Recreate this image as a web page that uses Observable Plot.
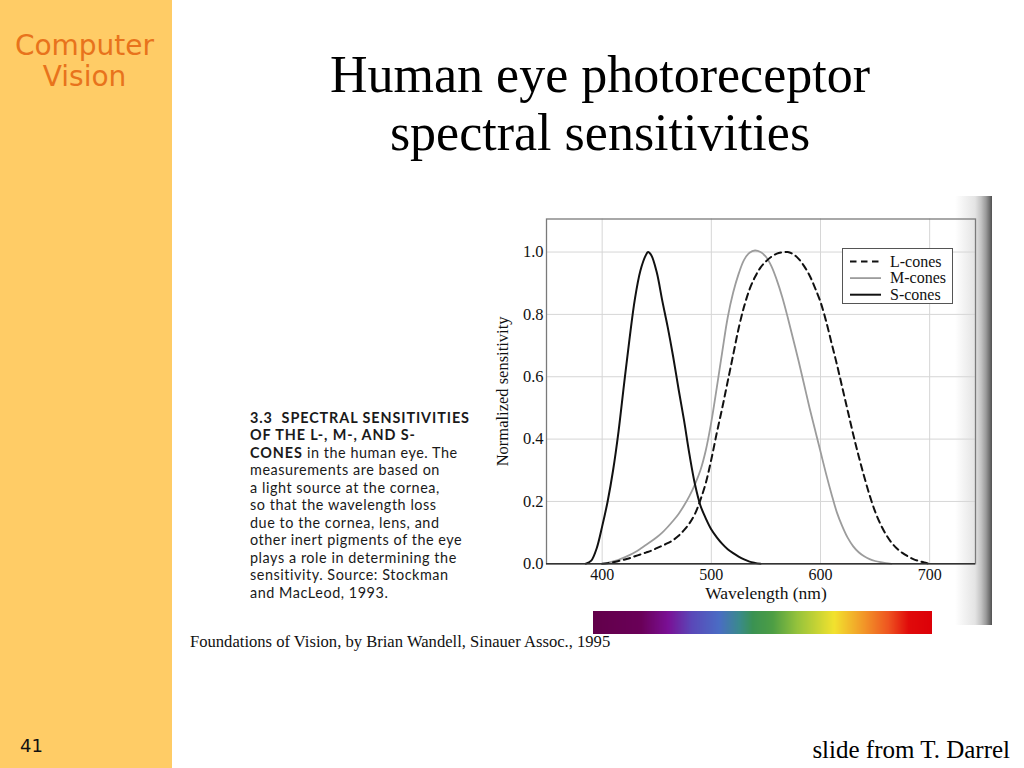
<!DOCTYPE html>
<html><head><meta charset="utf-8">
<script src="https://cdn.jsdelivr.net/npm/d3@7"></script>
<script src="https://cdn.jsdelivr.net/npm/@observablehq/plot@0.6"></script>
<style>
html,body{margin:0;padding:0;}
body{width:1024px;height:768px;position:relative;overflow:hidden;background:#fff;font-family:"Liberation Serif","Times New Roman",serif;color:#111;}
.abs{position:absolute;white-space:nowrap;}
#side{left:0;top:0;width:172px;height:768px;background:#FFCC66;}
#cv{left:0;top:30px;width:169px;text-align:center;font-family:"DejaVu Sans",sans-serif;font-size:28px;line-height:31px;color:#E8731C;}
#num{left:20px;top:736px;font-family:"DejaVu Sans",sans-serif;font-size:18px;line-height:20px;color:#111;}
#title{left:300px;top:46px;width:600px;text-align:center;font-size:52px;line-height:58px;color:#000;}
#figcap{left:250px;top:408.6px;font-family:Lato,"Open Sans",sans-serif;font-size:14.4px;line-height:17.5px;letter-spacing:0.55px;color:#1a1a1a;}
#figcap b{font-weight:700;letter-spacing:0.9px;}
#src{left:190px;top:632px;font-size:16.6px;line-height:19px;color:#111;}
#credit{right:14px;top:736px;font-size:25px;line-height:28px;color:#000;}
#shade{left:955px;top:196px;width:37px;height:429px;background:linear-gradient(to right,rgba(235,235,235,0) 0px,#e4e4e4 20px,#c4c4c4 26px,#9a9a9a 31px,#6a6a6a 35px,#505050 37px);}
#chart{left:490px;top:200px;}
#spectrum{left:593px;top:611px;}
#legend{left:842px;top:248px;width:109px;height:54px;border:1.3px solid #555;background:#fff;}
</style></head><body>
<div id="side" class="abs"></div>
<div id="cv" class="abs">Computer<br>Vision</div>
<div id="num" class="abs">41</div>
<div id="title" class="abs">Human eye photoreceptor<br>spectral sensitivities</div>
<div id="figcap" class="abs"><b>3.3&nbsp; SPECTRAL SENSITIVITIES</b><br><b>OF THE L-, M-, AND S-</b><br><b>CONES</b> in the human eye. The<br>measurements are based on<br>a light source at the cornea,<br>so that the wavelength loss<br>due to the cornea, lens, and<br>other inert pigments of the eye<br>plays a role in determining the<br>sensitivity. Source: Stockman<br>and MacLeod, 1993.</div>
<div id="src" class="abs">Foundations of Vision, by Brian Wandell, Sinauer Assoc., 1995</div>
<div id="credit" class="abs">slide from T. Darrel</div>
<div id="shade" class="abs"></div>
<div id="chart" class="abs"></div>
<div id="legend" class="abs"></div>
<div id="spectrum" class="abs"></div>
<script>
// ---- data ----
const sConeWl  = [385,390,395,400,405,410,415,420,425,430,435,440,442,445,450,455,460,465,470,475,480,485,490,495,500,505,510,515,520,525,530,535,540,545];
const sConeVal = [0,0.01,0.05,0.12,0.2,0.3,0.425,0.575,0.72,0.85,0.94,0.99,1.0,0.99,0.935,0.845,0.76,0.665,0.56,0.46,0.35,0.255,0.187,0.145,0.11,0.085,0.064,0.047,0.034,0.023,0.014,0.007,0.003,0];

const mConeWl  = [400,405,410,415,420,425,430,435,440,445,450,455,460,465,470,475,480,485,490,495,500,505,510,515,520,525,530,535,540,545,550,555,560,565,570,575,580,585,590,595,600,605,610,615,620,625,630,635,640,645,650,655,660,665];
const mConeVal = [0,0.003,0.008,0.013,0.02,0.028,0.037,0.048,0.06,0.072,0.085,0.1,0.118,0.138,0.16,0.187,0.218,0.255,0.3,0.365,0.455,0.565,0.68,0.79,0.87,0.93,0.975,0.998,1.005,1.0,0.985,0.955,0.91,0.855,0.79,0.72,0.65,0.575,0.5,0.43,0.36,0.29,0.225,0.165,0.12,0.083,0.056,0.037,0.024,0.015,0.009,0.005,0.002,0];

const lConeWl  = [400,405,410,415,420,425,430,435,440,445,450,455,460,465,470,475,480,485,490,495,500,505,510,515,520,525,530,535,540,545,550,555,560,565,570,575,580,585,590,595,600,605,610,615,620,625,630,635,640,645,650,655,660,665,670,675,680,685,690,695,700];
const lConeVal = [0,0.002,0.005,0.009,0.013,0.018,0.024,0.03,0.036,0.042,0.05,0.058,0.066,0.076,0.09,0.108,0.13,0.16,0.205,0.26,0.335,0.42,0.5,0.585,0.67,0.755,0.825,0.88,0.92,0.95,0.97,0.985,0.995,0.999,1.0,0.993,0.978,0.955,0.925,0.885,0.84,0.78,0.71,0.64,0.565,0.49,0.415,0.345,0.28,0.22,0.168,0.127,0.094,0.068,0.049,0.035,0.024,0.015,0.009,0.004,0];

const xTicks = [400,500,600,700];
const yTicks = [0,0.2,0.4,0.6,0.8,1.0];
const xDomain = [349,742];
const yDomain = [0,1.106];
const legendNames = ["L-cones","M-cones","S-cones"];
const xLabel = "Wavelength (nm)";
const yLabel = "Normalized sensitivity";

const spectrumPos    = [0,0.14,0.22,0.29,0.37,0.43,0.47,0.53,0.6,0.71,0.8,0.87,0.93,1];
const spectrumColors = ["#62004a","#6a0058","#7a1095","#5a48b8","#4a6cc4","#3a8a8c","#3a9252","#4e9e44","#94c23c","#f2e22e","#f29428","#ee5420","#e00a0a","#dc0008"];

// ---- styles per series ----
const seriesStyle = {
  "L-cones": {stroke:"#111", strokeWidth:2, dash:"6.5,4.5"},
  "M-cones": {stroke:"#9c9c9c", strokeWidth:1.8, dash:null},
  "S-cones": {stroke:"#111", strokeWidth:2, dash:null}
};

const toRows = (wl, val) => wl.map((w, i) => ({wl: w, v: val[i]}));
const L = toRows(lConeWl, lConeVal);
const M = toRows(mConeWl, mConeVal);
const S = toRows(sConeWl, sConeVal);

const lineMark = (data, name) => Plot.line(data, {
  x: "wl", y: "v", curve: "catmull-rom",
  stroke: seriesStyle[name].stroke, strokeWidth: seriesStyle[name].strokeWidth,
  strokeDasharray: seriesStyle[name].dash || undefined
});

const chart = Plot.plot({
  width: 500, height: 420,
  marginLeft: 56, marginRight: 15, marginTop: 18.5, marginBottom: 56.7,
  style: {fontFamily: "Liberation Serif, serif", fontSize: "16px", color: "#111", background: "transparent", overflow: "visible"},
  x: {domain: xDomain},
  y: {domain: yDomain},
  marks: [
    Plot.gridX(xTicks, {stroke: "#d6d6d6", strokeOpacity: 1, strokeWidth: 1}),
    Plot.gridY(yTicks.slice(1), {stroke: "#d6d6d6", strokeOpacity: 1, strokeWidth: 1}),
    lineMark(M, "M-cones"),
    lineMark(L, "L-cones"),
    lineMark(S, "S-cones"),
    Plot.frame({stroke: "#7a7a7a", strokeWidth: 1.3}),
    Plot.ruleY([0], {stroke: "#333", strokeWidth: 1.6}),
    Plot.axisX(xTicks, {tickSize: 0, tickPadding: 5, label: null, fontSize: 16}),
    Plot.axisY(yTicks, {tickSize: 0, tickPadding: 3, label: null, tickFormat: d3.format(".1f"), fontSize: 16.5}),
    Plot.text([xLabel], {frameAnchor: "bottom", dy: 35, dx: 5, fontSize: 17.5, text: d => d}),
    Plot.text([yLabel], {frameAnchor: "left", textAnchor: "middle", rotate: -90, dx: -44, fontSize: 16.5, text: d => d})
  ]
});
document.getElementById("chart").appendChild(chart);

// ---- legend ----
const lg = d3.select("#legend").append("svg").attr("width", 109).attr("height", 54).style("display","block");
legendNames.forEach((name, i) => {
  const y = 12.5 + i * 16.6;
  const st = seriesStyle[name];
  lg.append("line").attr("x1", 7).attr("x2", 38).attr("y1", y).attr("y2", y)
    .attr("stroke", st.stroke).attr("stroke-width", st.strokeWidth)
    .attr("stroke-dasharray", st.dash);
  lg.append("text").attr("x", 47).attr("y", y).attr("dy", "0.33em")
    .attr("font-family", "Liberation Serif, serif").attr("font-size", 16).attr("fill", "#111").text(name);
});

// ---- spectrum bar ----
const step = 1 / 339;
const slices = d3.range(0, 1, step);
const spectrum = Plot.plot({
  width: 339, height: 23, margin: 0,
  style: {background: "transparent"},
  x: {domain: [0, 1], axis: null},
  y: {domain: [0, 1], axis: null},
  color: {type: "linear", domain: spectrumPos, range: spectrumColors, interpolate: "rgb"},
  marks: [
    Plot.rect(slices, {x1: d => d, x2: d => d + step * 1.6, y1: 0, y2: 1, fill: d => d})
  ]
});
document.getElementById("spectrum").appendChild(spectrum);
</script>
</body></html>
